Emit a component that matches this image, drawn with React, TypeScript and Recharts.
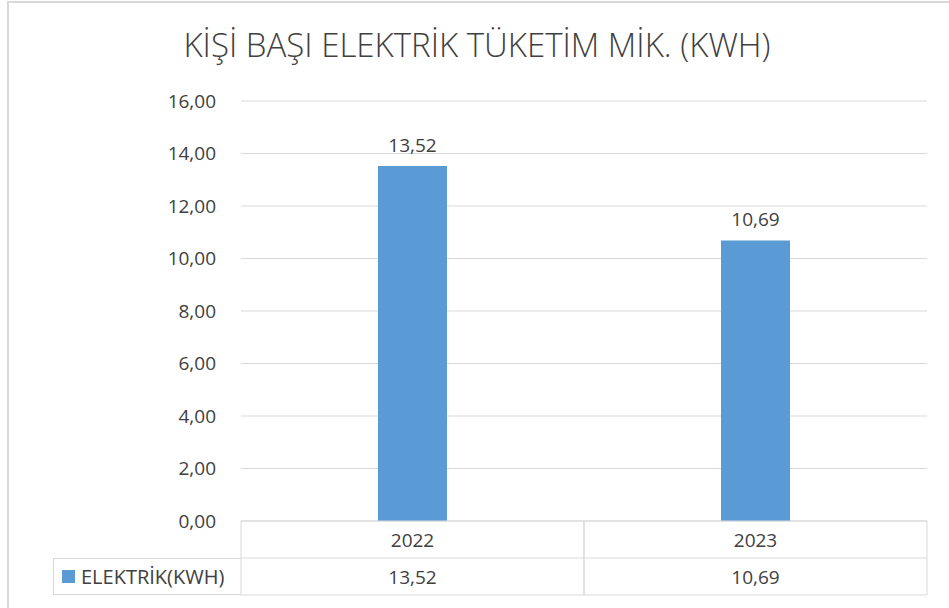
import React from 'react';
import { BarChart, Bar, XAxis, YAxis, CartesianGrid, LabelList } from 'recharts';

const TITLE = 'KİŞİ BAŞI ELEKTRİK TÜKETİM MİK. (KWH)';
const SERIES_NAME = 'ELEKTRİK(KWH)';
const YEARS = ['2022', '2023'];
const VALUES = [13.52, 10.69];
const Y_TICKS = [0, 2, 4, 6, 8, 10, 12, 14, 16];

const BAR_COLOR = '#5B9BD5';
const TEXT = '#404040';
const LINE = '#D9D9D9';
const FONT = '"Open Sans", sans-serif';

const data = YEARS.map((year, i) => ({ year, value: VALUES[i] }));
const fmt = (v: number) => v.toFixed(2).replace('.', ',');

const PLOT_LEFT = 241;
const PLOT_RIGHT = 927;
const ROW_H = 37;
const BAND = (PLOT_RIGHT - PLOT_LEFT) / YEARS.length;

const TableTick = (props: any) => {
  const { x, y, payload } = props;
  const left = x - BAND / 2;
  const right = x + BAND / 2;
  const v = VALUES[payload.index];
  return (
    <g>
      <line x1={left} y1={y} x2={left} y2={y + ROW_H * 2} stroke={LINE} />
      <line x1={right} y1={y} x2={right} y2={y + ROW_H * 2} stroke={LINE} />
      <line x1={left} y1={y + ROW_H} x2={right} y2={y + ROW_H} stroke={LINE} />
      <line x1={left} y1={y + ROW_H * 2} x2={right} y2={y + ROW_H * 2} stroke={LINE} />
      <text x={x} y={y + ROW_H / 2} textAnchor="middle" dominantBaseline="central" fill={TEXT} fontSize={19}>
        {payload.value}
      </text>
      <text x={x} y={y + ROW_H * 1.5} textAnchor="middle" dominantBaseline="central" fill={TEXT} fontSize={19}>
        {fmt(v)}
      </text>
    </g>
  );
};

export default function App() {
  return (
    <div style={{ position: 'fixed', left: 0, top: 0, width: 949, height: 608, overflow: 'hidden', background: '#fff', fontFamily: FONT }}>
      <div style={{ position: 'absolute', left: 7, top: 1, width: 960, height: 640, border: `2px solid ${LINE}`, boxSizing: 'border-box' }} />
      <div style={{ position: 'absolute', left: 8, width: 938, top: 22, textAlign: 'center', fontSize: 33, fontWeight: 300, color: TEXT, whiteSpace: 'nowrap' }}>
        {TITLE}
      </div>
      <div style={{ position: 'absolute', left: 0, top: 0 }}>
        <BarChart width={949} height={608} data={data} margin={{ top: 101, right: 949 - PLOT_RIGHT, bottom: 0, left: PLOT_LEFT - 60 }} style={{ fontFamily: FONT }}>
          <CartesianGrid vertical={false} stroke={LINE} />
          <YAxis
            width={60}
            domain={[0, 16]}
            ticks={Y_TICKS}
            tickFormatter={fmt}
            axisLine={false}
            tickLine={false}
            tickSize={0}
            tickMargin={25}
            tick={{ fill: TEXT, fontSize: 19 }}
            interval={0}
          />
          <XAxis
            dataKey="year"
            height={87}
            axisLine={{ stroke: LINE }}
            tickLine={false}
            tickSize={0}
            tickMargin={0}
            interval={0}
            tick={(p: any) => <TableTick {...p} />}
          />
          <Bar dataKey="value" fill={BAR_COLOR} barSize={69} isAnimationActive={false}>
            <LabelList dataKey="value" position="top" offset={14} formatter={(v: any) => fmt(Number(v))} fill={TEXT} fontSize={19} />
          </Bar>
        </BarChart>
      </div>
      <div style={{ position: 'absolute', left: 53, top: 521 + ROW_H, width: PLOT_LEFT - 53, height: ROW_H, borderLeft: `1px solid ${LINE}`, borderTop: `1px solid ${LINE}`, borderBottom: `1px solid ${LINE}`, boxSizing: 'border-box', display: 'flex', alignItems: 'center' }}>
        <div style={{ width: 13, height: 13, background: BAR_COLOR, marginLeft: 8, marginRight: 6 }} />
        <span style={{ fontSize: 20, color: TEXT, whiteSpace: 'nowrap' }}>{SERIES_NAME}</span>
      </div>
    </div>
  );
}
